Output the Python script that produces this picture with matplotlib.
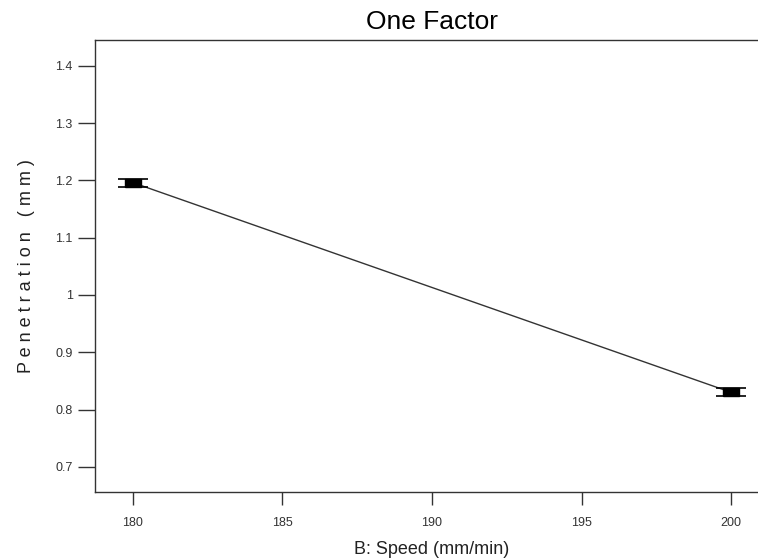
import matplotlib.pyplot as plt
from matplotlib.ticker import FormatStrFormatter
import numpy as np

plt.rcParams['font.family'] = ['Liberation Sans', 'DejaVu Sans']

# factor levels and predicted response
speed = [180, 200]
penetration = [1.196, 0.830]
se = [0.007, 0.007]

xticks = [180, 185, 190, 195, 200]
yticks = [0.7, 0.8, 0.9, 1.0, 1.1, 1.2, 1.3, 1.4]

fig = plt.figure(figsize=(7.58, 5.59), dpi=100)
ax = fig.add_axes([95/758, 1 - 492/559, 674/758, 452/559])

# line between the two levels
ax.plot(speed, penetration, color='#333333', linewidth=1.0, zorder=2)

# black box marker spanning the error bar, with caps
box = [(-1, -0.5), (1, -0.5), (1, 0.5), (-1, 0.5), (-1, -0.5)]
ax.errorbar(speed, penetration, yerr=se, fmt='none', ecolor='black',
            elinewidth=1.0, capsize=11, capthick=1.2, zorder=3)
ax.plot(speed, penetration, linestyle='none', marker=box, markersize=11.5,
        markerfacecolor='black', markeredgecolor='black', zorder=4)

ax.set_xlim(178.73, 201.27)
ax.set_ylim(0.656, 1.445)
ax.set_xticks(xticks)
ax.set_yticks(yticks)
ax.yaxis.set_major_formatter(FormatStrFormatter('%g'))

for s in ['top', 'bottom', 'left', 'right']:
    ax.spines[s].set_linewidth(1.0)
    ax.spines[s].set_color('#333333')

ax.tick_params(axis='y', direction='out', length=12, width=1.0,
               colors='#333333', labelsize=9, pad=4)
ax.tick_params(axis='x', direction='out', length=9, width=1.0,
               colors='#333333', labelsize=9, pad=9)

ax.set_title('One Factor', fontsize=19, pad=8)
ax.set_xlabel('B: Speed (mm/min)', fontsize=13, labelpad=9, color='#222222')
ax.set_ylabel(' '.join('Penetration (mm)'), fontsize=13, labelpad=15,
              color='#222222')

fig.savefig('out.png', dpi=100)
